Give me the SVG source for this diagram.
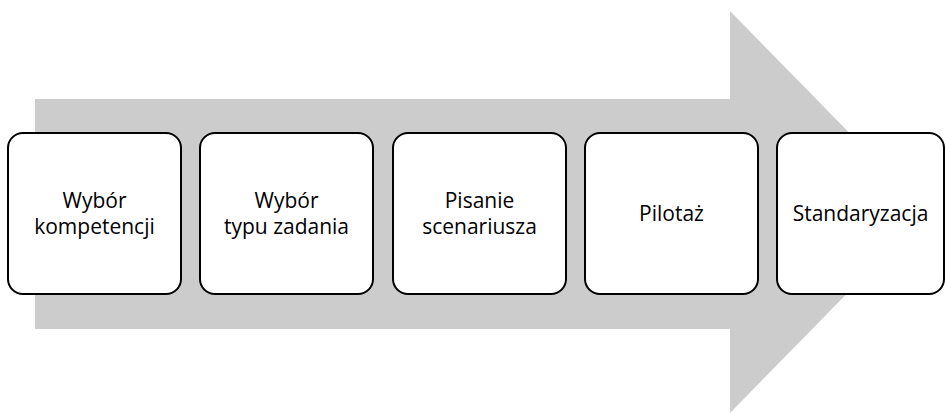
<svg xmlns="http://www.w3.org/2000/svg" width="945" height="413" viewBox="0 0 945 413">
<style>
.box{fill:#fff;stroke:#000;stroke-width:2}
.t{font-family:"Open Sans","Noto Sans",sans-serif;font-size:21px;fill:#000;text-anchor:middle}
</style>
<rect width="945" height="413" fill="#fff"/>
<g id="arrow">
<polygon points="35,99 730,99 730,11 927,212 730,413 730,329 35,329" fill="#cccccc"/>
</g>
<g id="connectors"></g>
<g id="n1"><rect class="box" x="8" y="133" width="173" height="161" rx="15"/><text class="t" x="94.5" y="208">Wybór</text><text class="t" x="94.5" y="234">kompetencji</text></g>
<g id="n2"><rect class="box" x="200" y="133" width="173" height="161" rx="15"/><text class="t" x="286.5" y="208">Wybór</text><text class="t" x="286.5" y="234">typu zadania</text></g>
<g id="n3"><rect class="box" x="393" y="133" width="173" height="161" rx="15"/><text class="t" x="479.5" y="208">Pisanie</text><text class="t" x="479.5" y="234">scenariusza</text></g>
<g id="n4"><rect class="box" x="585" y="133" width="173" height="161" rx="15"/><text class="t" x="671.5" y="221">Pilotaż</text></g>
<g id="n5"><rect class="box" x="777" y="133" width="167" height="161" rx="15"/><text class="t" x="860.5" y="221">Standaryzacja</text></g>
</svg>
